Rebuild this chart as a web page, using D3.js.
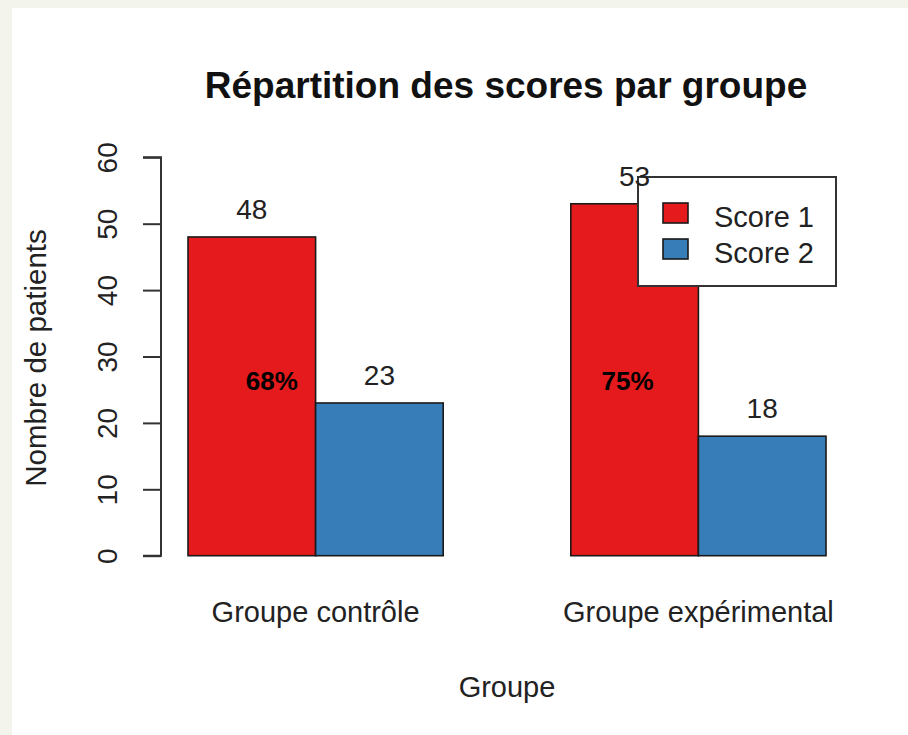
<!DOCTYPE html>
<html>
<head>
<meta charset="utf-8">
<script src="https://cdn.jsdelivr.net/npm/d3@7"></script>
<style>
  html, body { margin: 0; padding: 0; background: #f3f4ec; }
  svg { display: block; }
  text { font-family: "Liberation Sans", Arial, sans-serif; }
</style>
</head>
<body>
<script>
// ---- data ----
const groups = ["Groupe contrôle", "Groupe expérimental"];
const series = ["Score 1", "Score 2"];
const score1 = [48, 53];
const score2 = [23, 18];
const percentLabels = ["68%", "75%"];
const yTicks = [0, 10, 20, 30, 40, 50, 60];
const colors = ["#E41A1C", "#377EB8"];

const W = 908, H = 735;
const svg = d3.select("body").append("svg").attr("width", W).attr("height", H);

// white panel over cream background
svg.append("rect").attr("x", 12).attr("y", 8).attr("width", W - 12).attr("height", H - 8).attr("fill", "#ffffff");

const y = d3.scaleLinear().domain([0, 60]).range([555.7, 157.3]);
const x0 = d3.scaleBand().domain(groups).range([188, 826]).paddingInner(1 / 3).paddingOuter(0);
const x1 = d3.scaleBand().domain(series).range([0, x0.bandwidth()]).padding(0);

const values = groups.map((g, i) => [score1[i], score2[i]]);

// bars
const gGroups = svg.selectAll("g.grp").data(groups).join("g")
  .attr("class", "grp")
  .attr("transform", d => `translate(${x0(d)},0)`);

gGroups.selectAll("rect").data((g, i) => series.map((s, j) => ({ s, j, v: values[i][j] })))
  .join("rect")
  .attr("x", d => x1(d.s))
  .attr("y", d => y(d.v))
  .attr("width", x1.bandwidth())
  .attr("height", d => y(0) - y(d.v))
  .attr("fill", d => colors[d.j])
  .attr("stroke", "#1a1a1a")
  .attr("stroke-width", 1.6);

// percent annotations
const pctDx = [20, -7];
svg.selectAll("text.pct").data(percentLabels).join("text")
  .attr("class", "pct")
  .attr("x", (d, i) => x0(groups[i]) + x1(series[0]) + x1.bandwidth() / 2 + pctDx[i])
  .attr("y", y(25))
  .attr("text-anchor", "middle")
  .attr("font-family", "Lato, 'DejaVu Sans', sans-serif")
  .attr("font-weight", "bold")
  .attr("font-size", 26)
  .attr("fill", "#000")
  .text(d => d);

// y axis
const axis = d3.axisLeft(y).tickValues(yTicks).tickSize(18).tickPadding(0).tickFormat(d3.format("d"));
const gAxis = svg.append("g").attr("transform", "translate(161,0)").call(axis);
gAxis.select(".domain").attr("stroke", "#333").attr("stroke-width", 2).attr("d", `M-18,${y(60)}H0V${y(0)}H-18`);
gAxis.selectAll(".tick line").attr("stroke", "#333").attr("stroke-width", 2);
gAxis.selectAll(".tick text")
  .attr("font-family", "'Liberation Sans', Arial, sans-serif")
  .attr("font-size", 28)
  .attr("fill", "#222")
  .attr("text-anchor", "middle")
  .attr("x", null).attr("dy", null)
  .attr("transform", "translate(-44,0) rotate(-90)");

// group labels
svg.selectAll("text.glab").data(groups).join("text")
  .attr("class", "glab")
  .attr("x", d => x0(d) + x0.bandwidth() / 2)
  .attr("y", 622)
  .attr("text-anchor", "middle")
  .attr("font-size", 29)
  .attr("fill", "#222")
  .text(d => d);

// axis titles
svg.append("text").attr("x", 507).attr("y", 697).attr("text-anchor", "middle")
  .attr("font-size", 29).attr("fill", "#222").text("Groupe");
svg.append("text").attr("transform", "translate(46,358) rotate(-90)").attr("text-anchor", "middle")
  .attr("font-size", 29.5).attr("fill", "#222").text("Nombre de patients");

// title
svg.append("text").attr("x", 506).attr("y", 98).attr("text-anchor", "middle")
  .attr("font-size", 37).attr("font-weight", "bold").attr("fill", "#111")
  .text("Répartition des scores par groupe");

// legend
const lg = svg.append("g").attr("transform", "translate(638,177)");
lg.append("rect").attr("width", 198).attr("height", 109).attr("fill", "#fff").attr("stroke", "#333").attr("stroke-width", 2);
series.forEach((s, i) => {
  lg.append("rect").attr("x", 25).attr("y", 26 + i * 36).attr("width", 25).attr("height", 20)
    .attr("fill", colors[i]).attr("stroke", "#1a1a1a").attr("stroke-width", 1.6);
  lg.append("text").attr("x", 76).attr("y", 50 + i * 36).attr("font-size", 29).attr("fill", "#222").text(s);
});

// value labels (drawn last, over the legend as in the original)
const labelData = [];
groups.forEach((g, i) => series.forEach((s, j) => labelData.push({ g, s, j, v: values[i][j] })));
svg.selectAll("text.val").data(labelData).join("text")
  .attr("class", "val")
  .attr("x", d => x0(d.g) + x1(d.s) + x1.bandwidth() / 2)
  .attr("y", d => y(d.v) - 18)
  .attr("text-anchor", "middle")
  .attr("font-size", 28)
  .attr("fill", "#222")
  .text(d => d.v);
</script>
</body>
</html>
